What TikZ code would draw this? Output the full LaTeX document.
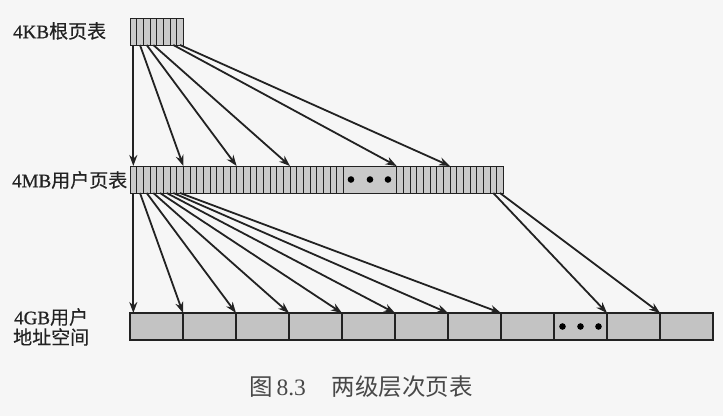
\documentclass[tikz,border=0pt]{standalone}
\usepackage{fontspec}
\setmainfont{Liberation Serif}[FakeBold=0.8]
\newfontfamily\cjk{Noto Sans CJK SC}[FakeBold=0.4]
\newfontfamily\capcjk{Noto Sans CJK SC}
\newfontfamily\capserif{Liberation Serif}
\usetikzlibrary{arrows.meta}
\definecolor{ink}{HTML}{222222}
\definecolor{cellgray}{HTML}{C9C9C9}
\definecolor{boxgray}{HTML}{C3C3C3}
\definecolor{paper}{HTML}{F6F6F6}
\definecolor{captext}{HTML}{484848}
\begin{document}
\begin{tikzpicture}[x=1pt,y=-1pt,
  cell/.style={draw=ink,line width=0.9pt,fill=cellgray,minimum width=6.666pt,minimum height=27pt,inner sep=0pt,outer sep=0pt,anchor=north west},
  dotcell/.style={draw=ink,line width=0.9pt,fill=cellgray,minimum width=53.33pt,minimum height=27pt,inner sep=0pt,outer sep=0pt,anchor=north west},
  bigbox/.style={draw=ink,line width=1.1pt,fill=boxgray,minimum width=53pt,minimum height=27pt,inner sep=0pt,outer sep=0pt,anchor=north west},
  arr/.style={draw=ink,line width=1.8pt,-{Stealth[length=11pt,width=8pt]}},
  lab/.style={inner sep=0pt,anchor=west,text=ink,font=\fontsize{19}{21}\selectfont},
  captxt/.style={inner sep=0pt,anchor=west,text=captext,font=\capserif\fontsize{23.5}{25}\selectfont}]
\fill[paper] (0,0) rectangle (723,416);
\useasboundingbox (0,0) rectangle (723,416);
% root table
\foreach \i in {1,...,8} \node[cell] (r\i) at ({130+(\i-1)*6.666},18) {};
% middle table
\foreach \i in {1,...,32} \node[cell] (m\i) at ({130+(\i-1)*6.666},166) {};
\node[dotcell] (md) at (343.3,166) {};
\foreach \i in {41,...,56} \node[cell] (m\i) at ({130+(\i-1)*6.666},166) {};
% bottom boxes
\foreach \i in {0,...,10} \node[bigbox] (b\i) at ({130+\i*53},313) {};
% dots
\foreach \d in {-19,0,18} \fill[black] ([xshift=\d pt]md.center) circle (3.3pt);
\foreach \d in {-18,0,18} \fill[black] ([xshift=\d pt]b8.center) circle (3.3pt);
% root arrows
\draw[arr] (r1.south) -- (r1.south |- m1.north);
\draw[arr] (r2.south) -- (m9.north west);
\draw[arr] (r3.south) -- (m17.north west);
\draw[arr] (r4.south) -- (m25.north west);
\draw[arr] (r7.south) -- (m41.north west);
\draw[arr] (r8.south) -- (m49.north west);
% middle arrows
\draw[arr] (m1.south) -- (m1.south |- b0.north);
\foreach \i [evaluate=\i as \j using int(\i-1)] in {2,...,8} \draw[arr] (m\i.south) -- (b\j.north west);
\draw[arr] (m55.south) -- (b9.north west);
\draw[arr] (m56.south) -- (b10.north west);
% labels
\node[lab] (l1) at (13,31) {4KB{\cjk 根页表}};
\node[lab] (l2) at (12,180) {4MB{\cjk 用户页表}};
\node[lab] (l3) at (14,317) {4GB{\cjk 用户}};
\node[lab] (l4) at (13,337) {{\cjk 地址空间}};
\node[captxt] (cap) at (249,387) {{\capcjk 图}\,8.3\hspace{1.1em}{\capcjk 两级层次页表}};
\end{tikzpicture}
\end{document}
